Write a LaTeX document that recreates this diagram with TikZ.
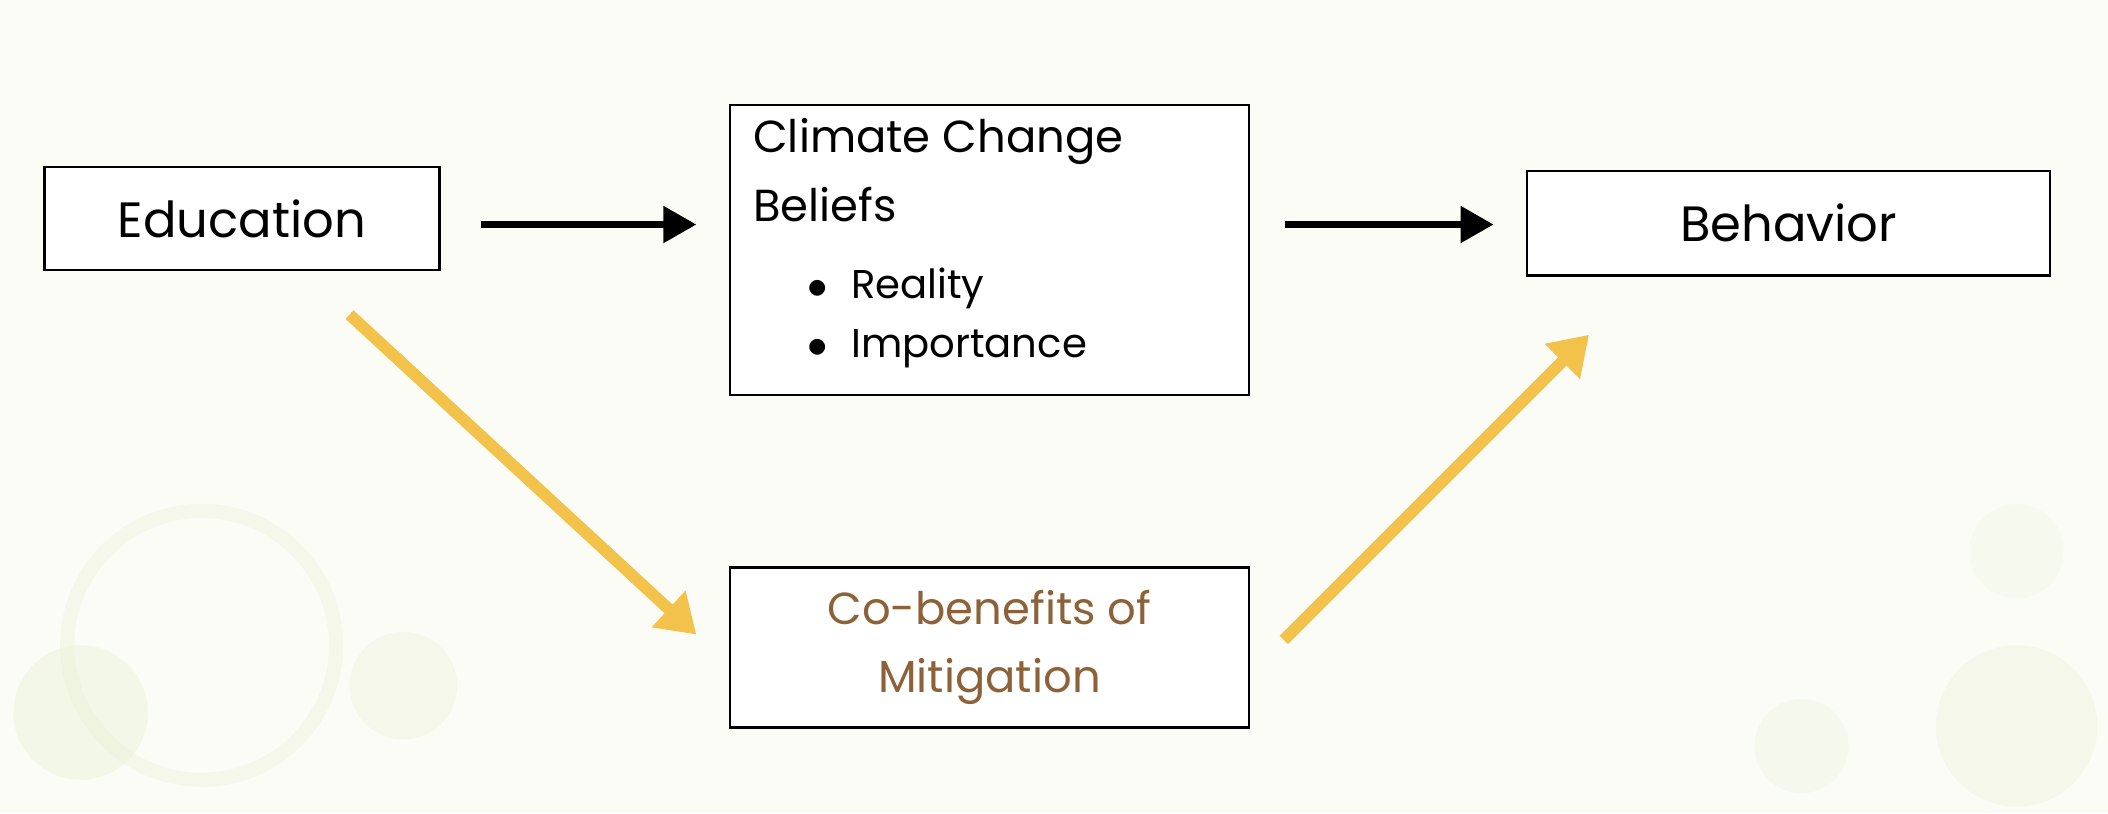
\documentclass[tikz,border=0pt]{standalone}
\usepackage{fontspec}
\setmainfont{Poppins}
\usetikzlibrary{arrows.meta}
\definecolor{bg}{HTML}{FBFCF5}
\definecolor{yel}{HTML}{F3C24A}
\definecolor{brn}{HTML}{8E6238}
\definecolor{grn}{HTML}{E6EED2}
\tikzset{box/.style={draw=black,line width=1pt,fill=white,inner sep=0pt},
 blk/.style={line width=3pt,-{Triangle[length=14pt,width=15pt]}},
 ylw/.style={yel,line width=5pt,-{Triangle[length=16pt,width=20pt]}}}
\begin{document}
\begin{tikzpicture}[x=0.02cm,y=-0.02cm]
\fill[bg] (0,0) rectangle (1568,605);
\fill[grn,opacity=0.35] (60,530) circle (50);
\fill[grn,opacity=0.3] (300,510) circle (40);
\draw[grn,line width=6pt,opacity=0.3] (150,480) circle (100);
\fill[grn,opacity=0.3] (1500,540) circle (60);
\fill[grn,opacity=0.25] (1340,555) circle (35);
\fill[grn,opacity=0.2] (1500,410) circle (35);
\node[box,minimum width=294*0.02cm,minimum height=77*0.02cm,font=\fontsize{21}{25}\selectfont] (edu) at (180,162.5) {Education};
\node[box,minimum width=386*0.02cm,minimum height=216*0.02cm] (ccb) at (736,186) {};
\node[anchor=base west,align=left,inner sep=0pt,font=\fontsize{19}{29.5}\selectfont] (ccbt) at (560,165) {Climate Change\\Beliefs};
\node[anchor=base west,align=left,inner sep=0pt,font=\fontsize{17}{25}\selectfont] (bul) at (600,266) {$\bullet$\hspace{10pt}Reality\\$\bullet$\hspace{10pt}Importance};
\node[box,minimum width=389*0.02cm,minimum height=78*0.02cm,font=\fontsize{21}{25}\selectfont] (beh) at (1330.5,166) {Behavior};
\node[box,minimum width=386*0.02cm,minimum height=119*0.02cm,align=center,text=brn,font=\fontsize{19}{29}\selectfont] (cob) at (736,481.5) {Co-benefits of\\Mitigation};
\coordinate (a1) at (358,167); \coordinate (a2) at (518,167);
\coordinate (b1) at (956,167); \coordinate (b2) at (1111,167);
\coordinate (c1) at (260,234); \coordinate (c2) at (518,472);
\coordinate (d1) at (955,476); \coordinate (d2) at (1182,249);
\draw[blk] (a1) -- (a2);
\draw[blk] (b1) -- (b2);
\draw[ylw] (c1) -- (c2);
\draw[ylw] (d1) -- (d2);
\end{tikzpicture}
\end{document}
